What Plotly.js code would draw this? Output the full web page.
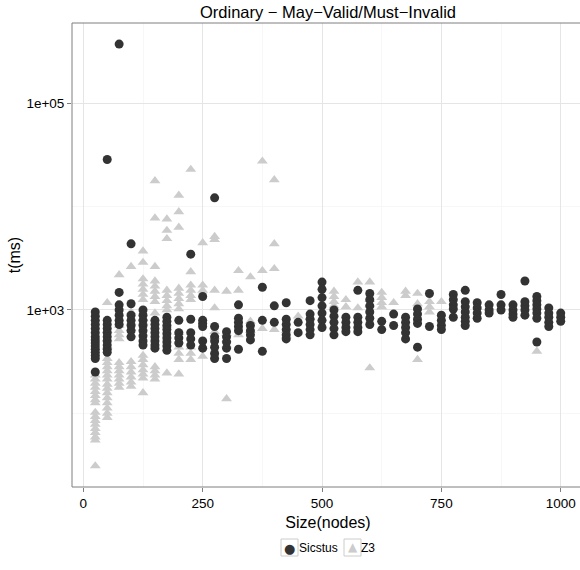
<!DOCTYPE html>
<html><head><meta charset="utf-8">
<script src="https://cdn.plot.ly/plotly-3.0.1.min.js"></script>
<style>html,body{margin:0;padding:0;background:#fff;overflow:hidden}#chart{width:584px;height:570px}</style>
</head><body><div id="chart"></div>
<script>
const sizes = [25,50,75,100,125,150,175,200,225,250,275,300,325,350,375,400,425,450,475,500,
  525,550,575,600,625,650,675,700,725,750,775,800,825,850,875,900,925,950,975,1000];

const sicstusTimes = [
  [955,871,794,724,661,603,550,513,479,447,417,389,363,339,251],
  [28600,794,724,661,603,550,501,457,417,389],
  [374000,1479,1122,1000,891,794,724],
  [4365,1148,891,794,708,631,550],
  [1000,891,794,708,631,562,501,457],
  [794,724,661,603,550,501,457,427],
  [851,776,708,646,589,537,490,447,407],
  [794,603,537,479],
  [3467,813,603,525,457],
  [1349,794,741,692,501,427],
  [12160,692,550,501,437,380,339],
  [617,550,490,427,339],
  [1122,832,759,692,631,417],
  [708,631,575,513],
  [1660,794,398],
  [1096,759],
  [1175,813,724,646,575,525],
  [759,603],
  [1230,912,813,724,646,575],
  [1862,1585,1318,1096,933,794,676],
  [1000,871,759,661,575],
  [851,759,676,617],
  [1549,851,759,676,617],
  [1445,1259,1096,955,832,724],
  [776,646],
  [912,708],
  [851,759,676,603,525],
  [1023,912,813,741,437],
  [1445,692],
  [891,794,708,646],
  [1413,1259,1122,1023,851],
  [1549,1202,1072,955,851,776,708],
  [1175,1047,933,832],
  [1122,1000,933],
  [1413,1122,1000],
  [1122,1000,912,851],
  [1905,1202,1096,1000,891],
  [1349,1230,1122,1023,933,832,490],
  [1047,933,851,759,692],
  [933,851,776]
];

const z3Times = [
  [234,214,195,178,162,148,135,126,102,93,85,78,71,65,59,55,31],
  [1175,631,525,447,339,309,282,257,234,214,191,174,158,141,126,112,100,91],
  [2188,708,631,575,525,309,282,257,234,214,195,178],
  [2630,955,759,661,575,316,282,251,224,200,182],
  [3715,2884,1995,1778,1585,1413,1259,832,759,363,331,295,263,240,219,158],
  [17783,7762,2630,1905,1698,1514,1349,1202,933,282,257,234,214],
  [7586,5888,4898,1549,1380,1230,1096,1000,708,245],
  [12882,8913,6310,1622,1445,1288,1148,1023,603,501,437,380,331,240],
  [22909,2344,1738,1549,1380,1259,437,380,331],
  [4467,1738,1549,355],
  [5129,4786,1549,1047,617,550],
  [1514,589,513,457,138],
  [2399,1549,575],
  [2089,776,631],
  [27542,2399,661],
  [18197,4365,2512,646],
  [631,562],
  [871],
  [851,603],
  [],
  [1514,1349,1202,1096],
  [1259,1072],
  [1862,1047],
  [1862,1259,1122,275],
  [1479,1318,1175,1072],
  [1175],
  [1514,1380],
  [1445,1148,331],
  [1202,1072,955],
  [1202],
  [],[],[],[],[],[],[],
  [398],
  [],[]
];

const seriesNames = ['Sicstus','Z3'];
const seriesColors = ['#333333','#cccccc'];
const xTickVals = [0,250,500,750,1000];
const xTickText = ['0','250','500','750','1000'];
const xMinorVals = [125,375,625,875];
const yTickVals = [1000,100000];
const yTickText = ['1e+03','1e+05'];
const yMinorVals = [100,10000];

function flatten(times){
  const xs=[], ys=[];
  times.forEach((arr,i)=>arr.forEach(v=>{xs.push(sizes[i]); ys.push(v);}));
  return {xs, ys};
}
const s = flatten(sicstusTimes), z = flatten(z3Times);
const FONT = 'Liberation Sans, Arial, Helvetica, sans-serif';

const traces = [
  {type:'scatter', mode:'markers', name:seriesNames[1], x:z.xs, y:z.ys, showlegend:false,
   marker:{symbol:'triangle-up', size:9.5, color:seriesColors[1], line:{width:0}}},
  {type:'scatter', mode:'markers', name:seriesNames[0], x:s.xs, y:s.ys, showlegend:false,
   marker:{symbol:'circle', size:9, color:seriesColors[0], line:{width:0}}}
];

const L = 72, W = 512, T = 23, H = 464;
const px = v => (v - L) / W;
const py = v => (T + H - v) / H;
const LY = 548;

const legendAnn = [
  {text:'\u25CF', x:px(289.5), y:py(LY), xanchor:'center', yanchor:'middle', font:{family:'DejaVu Sans', size:13, color:seriesColors[0]}},
  {text:'\u25B2', x:px(352.5), y:py(LY-1), xanchor:'center', yanchor:'middle', font:{family:'DejaVu Sans', size:12, color:seriesColors[1]}},
  {text:seriesNames[0], x:px(298), y:py(LY), xanchor:'left', yanchor:'middle', font:{size:12, color:'#000'}},
  {text:seriesNames[1], x:px(360), y:py(LY), xanchor:'left', yanchor:'middle', font:{size:12, color:'#000'}}
].map(a => Object.assign({xref:'paper', yref:'paper', showarrow:false, borderpad:0}, a));

const layout = {
  width:584, height:570,
  margin:{l:L, r:0, t:T, b:570-T-H, pad:0},
  paper_bgcolor:'#ffffff', plot_bgcolor:'#ffffff',
  font:{family:FONT, color:'#000000'},
  title:{text:'Ordinary \u2212 May\u2212Valid/Must\u2212Invalid', font:{size:16.5, color:'#000'},
         x:0.5, xref:'paper', xanchor:'center', y:1-12/570, yref:'container', yanchor:'middle'},
  xaxis:{range:[-23.75,1048.75], tickvals:xTickVals, ticktext:xTickText, ticks:'outside', ticklen:4,
         tickcolor:'#7f7f7f', tickwidth:1, tickfont:{size:13.5, color:'#000'},
         showgrid:true, gridcolor:'#e5e5e5', gridwidth:1, zeroline:false, showline:false,
         minor:{tickvals:xMinorVals, showgrid:true, gridcolor:'#f7f7f7', gridwidth:1, ticks:''},
         title:{text:'Size(nodes)', font:{size:16, color:'#000'}, standoff:6}},
  yaxis:{type:'log', range:[1.287,5.777], tickvals:yTickVals, ticktext:yTickText, ticks:'outside', ticklen:4,
         tickcolor:'#7f7f7f', tickwidth:1, tickfont:{size:13.5, color:'#000'},
         showgrid:true, gridcolor:'#e5e5e5', gridwidth:1, zeroline:false, showline:false,
         minor:{tickvals:yMinorVals, showgrid:true, gridcolor:'#f7f7f7', gridwidth:1, ticks:''},
         title:{text:'t(ms)', font:{size:16, color:'#000'}, standoff:1}},
  annotations: legendAnn,
  shapes:[
    {type:'rect', xref:'paper', yref:'paper', x0:0, x1:1, y0:0, y1:1, line:{color:'#7f7f7f', width:1}, fillcolor:'rgba(0,0,0,0)', layer:'above'},
    {type:'rect', xref:'paper', yref:'paper', x0:px(281), x1:px(298), y0:py(539), y1:py(556), line:{color:'#cccccc', width:1}, fillcolor:'#ffffff', layer:'below'},
    {type:'rect', xref:'paper', yref:'paper', x0:px(344), x1:px(361), y0:py(539), y1:py(556), line:{color:'#cccccc', width:1}, fillcolor:'#ffffff', layer:'below'}
  ],
  showlegend:false
};

Plotly.newPlot('chart', traces, layout, {displayModeBar:false, staticPlot:true});
</script></body></html>
